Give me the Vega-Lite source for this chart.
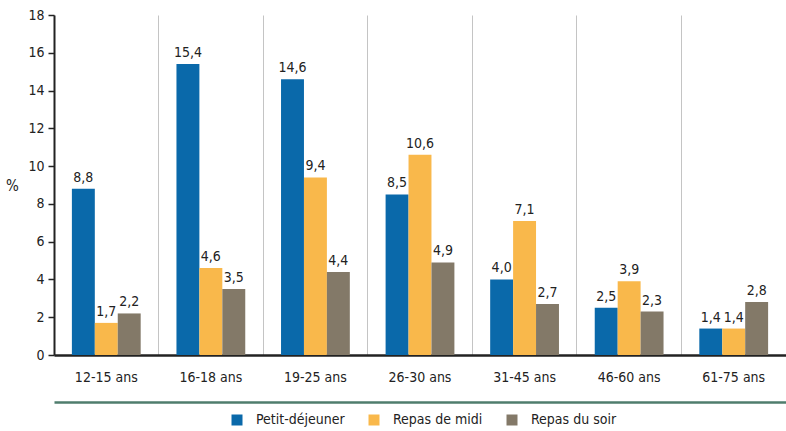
{
  "$schema": "https://vega.github.io/schema/vega-lite/v6.json",
  "autosize": {"type": "none"},
  "width": 732,
  "height": 340,
  "padding": {"left": 54, "top": 15, "right": 0, "bottom": 76},
  "config": {
    "font": "DejaVu Sans Condensed, sans-serif",
    "view": {"stroke": null},
    "locale": {"number": {"decimal": ",", "thousands": " ", "grouping": [3], "currency": ["", " €"]}}
  },
  "data": {
    "values": [
      {"age": "12-15 ans", "repas": "Petit-déjeuner", "v": 8.8},
      {"age": "12-15 ans", "repas": "Repas de midi", "v": 1.7},
      {"age": "12-15 ans", "repas": "Repas du soir", "v": 2.2},
      {"age": "16-18 ans", "repas": "Petit-déjeuner", "v": 15.4},
      {"age": "16-18 ans", "repas": "Repas de midi", "v": 4.6},
      {"age": "16-18 ans", "repas": "Repas du soir", "v": 3.5},
      {"age": "19-25 ans", "repas": "Petit-déjeuner", "v": 14.6},
      {"age": "19-25 ans", "repas": "Repas de midi", "v": 9.4},
      {"age": "19-25 ans", "repas": "Repas du soir", "v": 4.4},
      {"age": "26-30 ans", "repas": "Petit-déjeuner", "v": 8.5},
      {"age": "26-30 ans", "repas": "Repas de midi", "v": 10.6},
      {"age": "26-30 ans", "repas": "Repas du soir", "v": 4.9},
      {"age": "31-45 ans", "repas": "Petit-déjeuner", "v": 4.0},
      {"age": "31-45 ans", "repas": "Repas de midi", "v": 7.1},
      {"age": "31-45 ans", "repas": "Repas du soir", "v": 2.7},
      {"age": "46-60 ans", "repas": "Petit-déjeuner", "v": 2.5},
      {"age": "46-60 ans", "repas": "Repas de midi", "v": 3.9},
      {"age": "46-60 ans", "repas": "Repas du soir", "v": 2.3},
      {"age": "61-75 ans", "repas": "Petit-déjeuner", "v": 1.4},
      {"age": "61-75 ans", "repas": "Repas de midi", "v": 1.4},
      {"age": "61-75 ans", "repas": "Repas du soir", "v": 2.8}
    ]
  },
  "encoding": {
    "y": {
      "field": "v", "type": "quantitative",
      "scale": {"domain": [0, 18], "nice": false},
      "axis": {
        "values": [0, 2, 4, 6, 8, 10, 12, 14, 16, 18],
        "grid": false, "domainColor": "#222", "domainWidth": 2,
        "tickColor": "#222", "tickSize": 6, "tickWidth": 1.5,
        "labelFontSize": 14, "labelColor": "#222", "labelPadding": 4,
        "title": "%", "titleAngle": 0, "titleX": -42, "titleY": 170,
        "titleAlign": "center", "titleBaseline": "middle",
        "titleFontSize": 15, "titleFontWeight": "normal", "titleColor": "#222"
      }
    },
    "xOffset": {
      "field": "repas", "type": "nominal",
      "scale": {"paddingInner": 0, "paddingOuter": 0.78}
    }
  },
  "layer": [
    {
      "mark": {"type": "bar"},
      "encoding": {
        "x": {
          "field": "age", "type": "nominal",
          "scale": {"paddingInner": 0, "paddingOuter": 0},
          "axis": {
            "title": null, "labelAngle": 0, "ticks": false, "orient": "bottom",
            "grid": true, "bandPosition": 0, "gridColor": "#c4c4c4", "gridWidth": 1,
            "domainColor": "#222", "domainWidth": 2.5,
            "labelFontSize": 14, "labelColor": "#222", "labelPadding": 15
          }
        },
        "color": {
          "field": "repas", "type": "nominal",
          "scale": {"range": ["#0a69aa", "#f9b84b", "#837968"]},
          "legend": {
            "title": null, "orient": "none", "direction": "horizontal",
            "legendX": 176, "legendY": 398,
            "symbolType": "square", "symbolSize": 121, "symbolStrokeWidth": 0,
            "labelFontSize": 14, "labelColor": "#222", "labelOffset": 12,
            "columnPadding": 22
          }
        }
      }
    },
    {
      "mark": {"type": "text", "dy": -11, "fontSize": 14, "fill": "#222"},
      "encoding": {
        "x": {
          "field": "age", "type": "nominal",
          "axis": {
            "title": null, "labels": false, "ticks": false, "grid": false, "orient": "bottom",
            "offset": 47, "domainColor": "#4f7d6d", "domainWidth": 2.5
          }
        },
        "text": {"field": "v", "type": "quantitative", "format": ".1f"}
      }
    }
  ],
  "resolve": {"axis": {"x": "independent"}}
}
